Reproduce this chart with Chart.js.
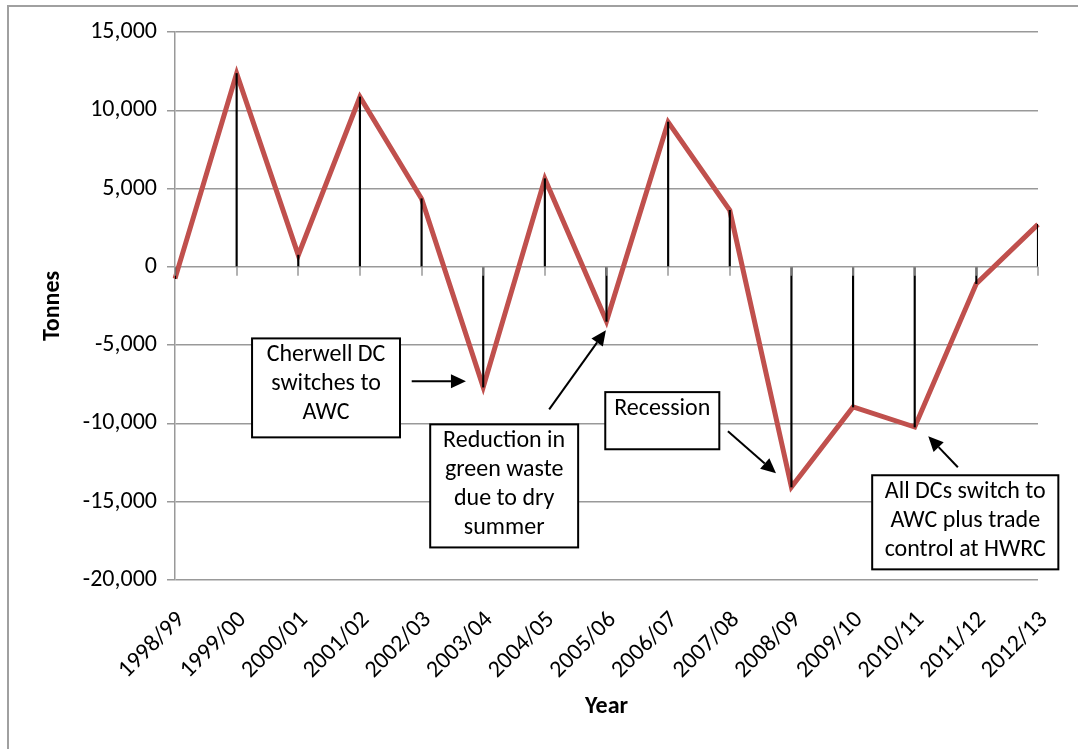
<!DOCTYPE html>
<html>
<head>
<meta charset="utf-8">
<script src="https://cdn.jsdelivr.net/npm/chart.js@4.4.0/dist/chart.umd.min.js"></script>
<style>
  html, body { margin: 0; padding: 0; background: #fff; }
  #wrap { width: 1078px; height: 749px; }
</style>
</head>
<body>
<div id="wrap"><canvas id="chart"></canvas></div>
<script>
// Data
const years = ['1998/99', '1999/00', '2000/01', '2001/02', '2002/03', '2003/04', '2004/05', '2005/06',
  '2006/07', '2007/08', '2008/09', '2009/10', '2010/11', '2011/12', '2012/13'];
const tonnes = [-750, 12350, 750, 10850, 4350, -7680, 5630, -3480,
  9250, 3610, -14060, -8950, -10230, -1070, 2710];
const yTicks = [-20000, -15000, -10000, -5000, 0, 5000, 10000, 15000];

const FONT = 'Carlito, Lato, sans-serif';
const GRID = '#999999';

// notes: box corners and arrows in (category index, tonnes)
const notes = [
  { lines: ['Cherwell DC', 'switches to', 'AWC'], box: [1.25, -4570, 3.65, -10890],
    arrow: [3.84, -7310, 4.72, -7310] },
  { lines: ['Reduction in', 'green waste', 'due to dry', 'summer'], box: [4.14, -10060, 6.54, -17920],
    arrow: [6.07, -9100, 6.99, -4050] },
  { lines: ['Recession'], box: [6.98, -8000, 8.83, -11650],
    arrow: [8.97, -10500, 9.75, -13190] },
  { lines: ['All DCs switch to', 'AWC plus trade', 'control at HWRC'], box: [11.31, -13310, 14.33, -19320],
    arrow: [12.70, -12800, 12.22, -10820] },
];

const frame = {
  id: 'frame',
  beforeDraw(chart) {
    const ctx = chart.ctx;
    ctx.save();
    ctx.strokeStyle = '#a0a0a0';
    ctx.lineWidth = 2;
    ctx.beginPath();
    ctx.moveTo(8, chart.height);
    ctx.lineTo(8, 6);
    ctx.lineTo(chart.width, 6);
    ctx.stroke();
    ctx.restore();
  },
  afterDatasetsDraw(chart) {
    // little tick marks under the zero line
    const ctx = chart.ctx, x = chart.scales.x, y = chart.scales.y;
    const y0 = y.getPixelForValue(0);
    ctx.save();
    ctx.strokeStyle = GRID;
    ctx.lineWidth = 1.5;
    years.forEach((_, i) => {
      const px = Math.round(x.getPixelForValue(i));
      ctx.beginPath();
      ctx.moveTo(px, y0);
      ctx.lineTo(px, y0 + 9);
      ctx.stroke();
    });
    ctx.restore();
  }
};

function arrow(ctx, x1, y1, x2, y2) {
  const a = Math.atan2(y2 - y1, x2 - x1);
  const len = 15, w = 7;
  const bx = x2 - len * Math.cos(a), by = y2 - len * Math.sin(a);
  ctx.beginPath();
  ctx.moveTo(x1, y1);
  ctx.lineTo(bx, by);
  ctx.stroke();
  ctx.beginPath();
  ctx.moveTo(x2, y2);
  ctx.lineTo(bx + w * Math.sin(a), by - w * Math.cos(a));
  ctx.lineTo(bx - w * Math.sin(a), by + w * Math.cos(a));
  ctx.closePath();
  ctx.fill();
}

const callouts = {
  id: 'callouts',
  afterDraw(chart) {
    const ctx = chart.ctx, x = chart.scales.x, y = chart.scales.y;
    ctx.save();
    notes.forEach(n => {
      const l = x.getPixelForValue(n.box[0]), t = y.getPixelForValue(n.box[1]);
      const r = x.getPixelForValue(n.box[2]), b = y.getPixelForValue(n.box[3]);
      ctx.fillStyle = '#fff';
      ctx.fillRect(l, t, r - l, b - t);
      ctx.strokeStyle = '#000';
      ctx.lineWidth = 2;
      ctx.strokeRect(l, t, r - l, b - t);
      ctx.fillStyle = '#000';
      ctx.font = '24px ' + FONT;
      ctx.textAlign = 'center';
      ctx.textBaseline = 'middle';
      n.lines.forEach((s, k) => ctx.fillText(s, (l + r) / 2, t + 17 + k * 29));
      arrow(ctx, x.getPixelForValue(n.arrow[0]), y.getPixelForValue(n.arrow[1]),
        x.getPixelForValue(n.arrow[2]), y.getPixelForValue(n.arrow[3]));
    });
    ctx.restore();
  }
};

new Chart(document.getElementById('chart'), {
  data: {
    labels: years,
    datasets: [
      {
        type: 'bar',
        data: tonnes,
        backgroundColor: '#000',
        barThickness: 1.5,
        order: 0
      },
      {
        type: 'line',
        data: tonnes,
        borderColor: '#C0504D',
        borderWidth: 5,
        pointRadius: 0,
        tension: 0,
        order: 1
      }
    ]
  },
  options: {
    responsive: true,
    maintainAspectRatio: false,
    animation: false,
    layout: { padding: { top: 32, right: 40, bottom: 0, left: 0 } },
    plugins: {
      legend: { display: false },
      tooltip: { enabled: false }
    },
    scales: {
      x: {
        offset: false,
        grid: { display: false },
        border: { display: false },
        ticks: {
          color: '#000',
          font: { family: FONT, size: 24 },
          minRotation: 45,
          maxRotation: 45,
          autoSkip: false,
          padding: 18,
          labelOffset: 6
        },
        title: {
          display: true,
          text: 'Year',
          color: '#000',
          font: { family: FONT, size: 24, weight: 'bold' },
          padding: { top: 4, bottom: 28 }
        },
        afterFit(s) { s.height = 749 - 580; }
      },
      y: {
        min: -20000,
        max: 15000,
        afterBuildTicks(s) { s.ticks = yTicks.map(v => ({ value: v })); },
        grid: { color: GRID, lineWidth: 1.5, tickLength: 8 },
        border: { color: GRID, width: 1.5 },
        ticks: {
          color: '#000',
          font: { family: FONT, size: 24 },
          padding: 10,
          callback: v => v.toLocaleString('en-US')
        },
        title: {
          display: true,
          text: 'Tonnes',
          color: '#000',
          font: { family: FONT, size: 24, weight: 'bold' },
          padding: { top: 39, bottom: 0 }
        },
        afterFit(s) { s.width = 175; }
      }
    }
  },
  plugins: [frame, callouts]
});
</script>
</body>
</html>
